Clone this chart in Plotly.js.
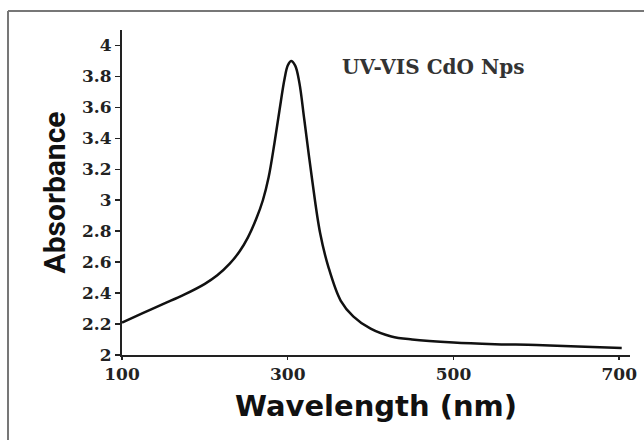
<!DOCTYPE html>
<html>
<head>
<meta charset="utf-8">
<script src="https://cdn.plot.ly/plotly-3.0.1.min.js"></script>
<style>
html,body{margin:0;padding:0;background:#fff;}
#chart{width:644px;height:440px;}
</style>
</head>
<body>
<div id="chart"></div>
<script>
// Data
var wavelength = [100, 125, 150, 175, 200, 215, 230, 242, 252, 262, 270, 277, 284, 290, 296, 300, 304, 309, 314, 320, 329, 339, 349, 364, 379, 400, 425, 450, 500, 550, 600, 650, 703];
var absorbance = [2.21, 2.27, 2.33, 2.39, 2.46, 2.515, 2.59, 2.67, 2.76, 2.88, 3.00, 3.15, 3.37, 3.58, 3.78, 3.87, 3.90, 3.87, 3.76, 3.52, 3.15, 2.79, 2.57, 2.35, 2.25, 2.17, 2.12, 2.10, 2.08, 2.07, 2.065, 2.055, 2.045];
var xTicks = [100, 300, 500, 700];
var yTicks = [2, 2.2, 2.4, 2.6, 2.8, 3, 3.2, 3.4, 3.6, 3.8, 4];
var yTickText = ['2', '2.2', '2.4', '2.6', '2.8', '3', '3.2', '3.4', '3.6', '3.8', '4'];
var chartLabel = 'UV-VIS CdO Nps';

var trace = {
  x: wavelength,
  y: absorbance,
  type: 'scatter',
  mode: 'lines',
  line: {color: '#111', width: 2.5, shape: 'spline', smoothing: 1},
  hoverinfo: 'skip'
};

var tickFont = {family: '"DejaVu Serif", serif', size: 17, color: '#222', weight: 'bold'};

var layout = {
  width: 644,
  height: 440,
  margin: {l: 122, r: 14, t: 30, b: 85},
  paper_bgcolor: '#fff',
  plot_bgcolor: '#fff',
  showlegend: false,
  xaxis: {
    range: [100, 713],
    tickvals: xTicks,
    ticks: 'outside',
    ticklen: 3,
    tickwidth: 1.5,
    tickcolor: '#222',
    showline: true,
    linecolor: '#222',
    linewidth: 2,
    showgrid: false,
    zeroline: false,
    tickfont: tickFont,
    title: {
      text: 'Wavelength (nm)',
      font: {family: '"DejaVu Sans", sans-serif', size: 29, color: '#111', weight: 'bold'},
      standoff: 12
    }
  },
  yaxis: {
    range: [2, 4.1],
    tickvals: yTicks,
    ticktext: yTickText,
    ticks: 'outside',
    ticklen: 5,
    tickwidth: 1.5,
    tickcolor: '#222',
    showline: true,
    linecolor: '#222',
    linewidth: 2,
    showgrid: false,
    zeroline: false,
    tickfont: tickFont,
    title: {
      text: 'Absorbance',
      font: {family: 'Roboto, sans-serif', size: 30, color: '#111', weight: 'bold'},
      standoff: 8
    }
  },
  annotations: [{
    text: chartLabel,
    xref: 'paper', yref: 'paper',
    x: 0.613, y: 0.885,
    xanchor: 'center', yanchor: 'middle',
    showarrow: false,
    font: {family: '"DejaVu Serif", serif', size: 20, color: '#333', weight: 'bold'}
  }],
  shapes: [
    {type: 'line', xref: 'paper', yref: 'paper', x0: -0.2244, x1: -0.2244, y0: -0.3, y1: 1.0585, line: {color: '#777', width: 2}},
    {type: 'line', xref: 'paper', yref: 'paper', x0: -0.2244, x1: 1.05, y0: 1.0585, y1: 1.0585, line: {color: '#777', width: 2}}
  ]
};

Plotly.newPlot('chart', [trace], layout, {displayModeBar: false, staticPlot: true});
</script>
</body>
</html>
